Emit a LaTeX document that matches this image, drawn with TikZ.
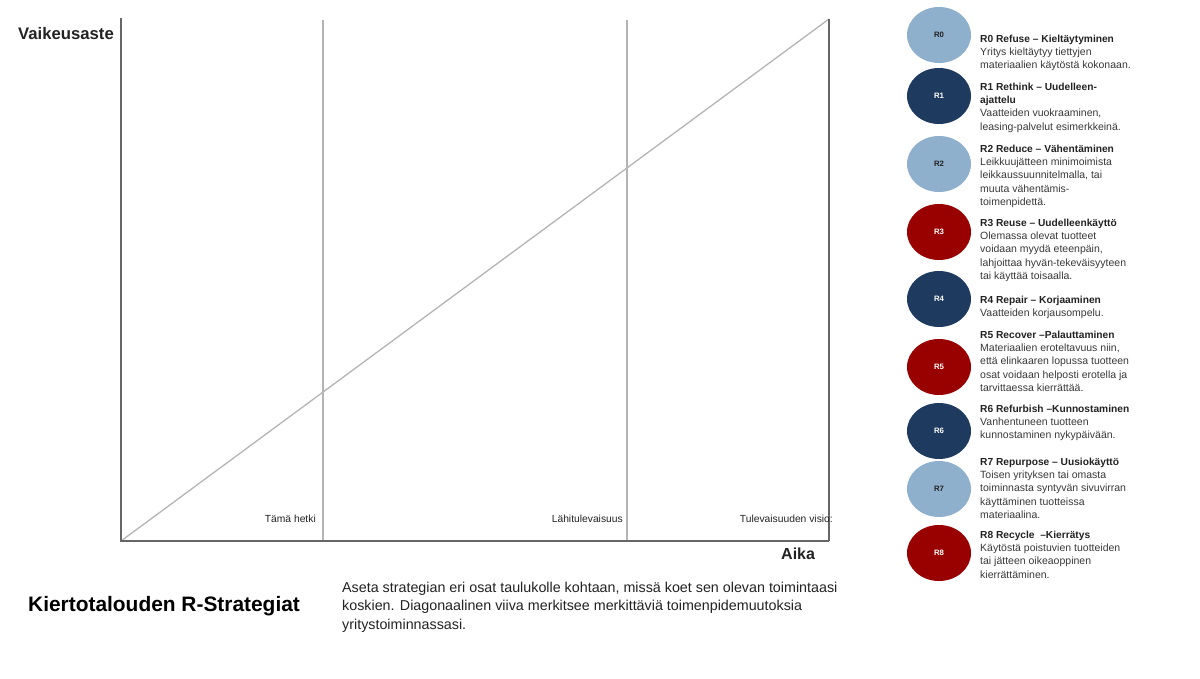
\documentclass[tikz,border=0pt]{standalone}
\usepackage{fontspec}
\setmainfont{Liberation Sans}
\usetikzlibrary{shapes.geometric}
\definecolor{lightb}{HTML}{8FB0CC}
\definecolor{navy}{HTML}{1F3A5F}
\definecolor{darkred}{HTML}{990000}
\definecolor{axisgray}{HTML}{666666}
\definecolor{linegray}{HTML}{B4B4B4}
\definecolor{txt}{HTML}{222222}
\definecolor{bodytxt}{HTML}{383838}
\tikzset{
  rcirc/.style={ellipse, minimum width=64pt, minimum height=56pt, inner sep=0pt, font=\fontsize{7.8}{9}\selectfont\bfseries},
  rlight/.style={rcirc, fill=lightb, text=txt},
  rnavy/.style={rcirc, fill=navy, text=white},
  rred/.style={rcirc, fill=darkred, text=white},
  rtext/.style={anchor=base west, inner sep=0pt, text=bodytxt, font=\fontsize{10.5}{13.3}\selectfont},
  axisline/.style={draw=axisgray, line width=1.3pt},
  gridline/.style={draw=linegray, line width=1.3pt},
  chartlbl/.style={anchor=base east, inner sep=0pt, text=txt, font=\fontsize{10.3}{12}\selectfont},
}
\newcommand{\rblock}[2]{\parbox[t]{190pt}{\raggedright{\fontsize{10.2}{13.3}\selectfont\bfseries\color{txt}#1}\\#2}}
\begin{document}
\begin{tikzpicture}[x=1pt,y=-1pt]
\useasboundingbox (0,0) rectangle (1200,679);
% chart
\coordinate (O) at (121,541);
\coordinate (Ytop) at (121,18);
\coordinate (Xend) at (829,541);
\coordinate (TR) at (829,19);
\coordinate (A1) at (323,20);
\coordinate (A1b) at (323,541);
\coordinate (A2) at (627,20);
\coordinate (A2b) at (627,541);
\draw[gridline] (A1) -- (A1b);
\draw[gridline] (A2) -- (A2b);
\draw[gridline] (O) -- (TR);
\draw[axisline] (TR) -- (Xend);
\draw[axisline] (Ytop) -- (O) -- (Xend);
\node[chartlbl] (l1) at (316,522) {Tämä hetki};
\node[chartlbl] (l2) at (623,522) {Lähitulevaisuus};
\node[chartlbl] (l3) at (833,522) {Tulevaisuuden visio:};
\node[anchor=base west, inner sep=0pt, text=txt, font=\fontsize{16.7}{18}\selectfont\bfseries] (ylab) at (18,40) {Vaikeusaste};
\node[anchor=base west, inner sep=0pt, text=txt, font=\fontsize{16}{18}\selectfont\bfseries] (xlab) at (781,559) {Aika};
% bottom texts
\node[anchor=base west, inner sep=0pt, text=black, font=\fontsize{20.9}{22}\selectfont\bfseries] (title) at (28,611) {Kiertotalouden R-Strategiat};
\node[anchor=base west, inner sep=0pt, text=txt, font=\fontsize{14.3}{18.5}\selectfont] (para) at (342,592) {\parbox[t]{560pt}{Aseta strategian eri osat taulukolle kohtaan, missä koet sen olevan toimintaasi\\koskien. Diagonaalinen viiva merkitsee merkittäviä toimenpidemuutoksia\\yritystoiminnassasi.}};
% circles
\node[rlight] (R0) at (939,35) {R0};
\node[rnavy] (R1) at (939,96) {R1};
\node[rlight] (R2) at (939,164) {R2};
\node[rred] (R3) at (939,232) {R3};
\node[rnavy] (R4) at (939,299) {R4};
\node[rred] (R5) at (939,367) {R5};
\node[rnavy] (R6) at (939,431) {R6};
\node[rlight] (R7) at (939,489) {R7};
\node[rred] (R8) at (939,553) {R8};
% descriptions
\node[rtext] (T0) at (980,35) {\rblock{R0 Refuse – Kieltäytyminen}{Yritys kieltäytyy tiettyjen\\materiaalien käytöstä kokonaan.}};
\node[rtext] (T1) at (980,83) {\rblock{R1 Rethink – Uudelleen-\\ajattelu}{Vaatteiden vuokraaminen,\\leasing-palvelut esimerkkeinä.}};
\node[rtext] (T2) at (980,145) {\rblock{R2 Reduce – Vähentäminen}{Leikkuujätteen minimoimista\\leikkaussuunnitelmalla, tai\\muuta vähentämis-\\toimenpidettä.}};
\node[rtext] (T3) at (980,219) {\rblock{R3 Reuse – Uudelleenkäyttö}{Olemassa olevat tuotteet\\voidaan myydä eteenpäin,\\lahjoittaa hyvän-tekeväisyyteen\\tai käyttää toisaalla.}};
\node[rtext] (T4) at (980,296) {\rblock{R4 Repair – Korjaaminen}{Vaatteiden korjausompelu.}};
\node[rtext] (T5) at (980,331) {\rblock{R5 Recover –Palauttaminen}{Materiaalien eroteltavuus niin,\\että elinkaaren lopussa tuotteen\\osat voidaan helposti erotella ja\\tarvittaessa kierrättää.}};
\node[rtext] (T6) at (980,405) {\rblock{R6 Refurbish –Kunnostaminen}{Vanhentuneen tuotteen\\kunnostaminen nykypäivään.}};
\node[rtext] (T7) at (980,458) {\rblock{R7 Repurpose – Uusiokäyttö}{Toisen yrityksen tai omasta\\toiminnasta syntyvän sivuvirran\\käyttäminen tuotteissa\\materiaalina.}};
\node[rtext] (T8) at (980,531) {\rblock{R8 Recycle~ –Kierrätys}{Käytöstä poistuvien tuotteiden\\tai jätteen oikeaoppinen\\kierrättäminen.}};
\end{tikzpicture}
\end{document}
